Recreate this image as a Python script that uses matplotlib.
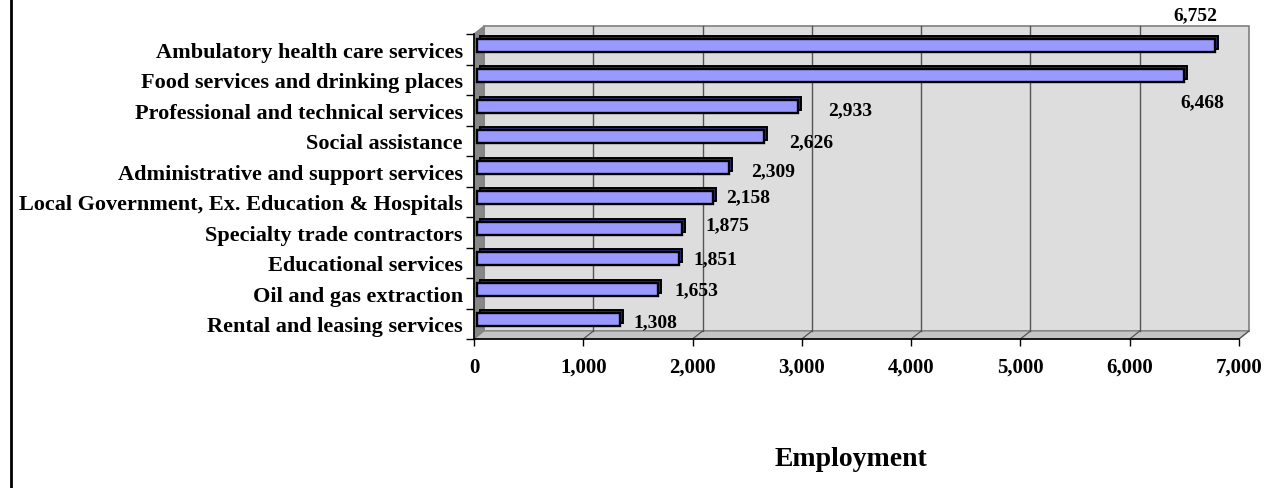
import matplotlib.pyplot as plt
from matplotlib import transforms
from matplotlib.patches import Rectangle, Polygon
from matplotlib.lines import Line2D
from matplotlib.ticker import FuncFormatter

# data
categories = [
    "Ambulatory health care services",
    "Food services and drinking places",
    "Professional and technical services",
    "Social assistance",
    "Administrative and support services",
    "Local Government, Ex. Education & Hospitals",
    "Specialty trade contractors",
    "Educational services",
    "Oil and gas extraction",
    "Rental and leasing services",
]
employment = [6752, 6468, 2933, 2626, 2309, 2158, 1875, 1851, 1653, 1308]
x_ticks = [0, 1000, 2000, 3000, 4000, 5000, 6000, 7000]
x_title = "Employment"

# where each value label sits, in pixels from the bar end (like the excel export)
label_offsets = [(-17, 35), (21, -22), (56, 1), (50, -1), (47, 1),
                 (38, 5), (48, 8), (39, 4), (42, 4), (38, 2)]

W, H = 1270, 489
fig = plt.figure(figsize=(W / 100, H / 100), dpi=100)
plt.rcParams['font.family'] = ['Liberation Serif', 'DejaVu Serif']
plt.rcParams['font.weight'] = 'bold'

# front plane of the fake 3d box
ax = fig.add_axes([474 / W, 1 - 340 / H, (1239 - 474) / W, (340 - 35) / H])
ax.set_xlim(x_ticks[0], x_ticks[-1])
ax.set_ylim(len(categories) - 0.5, -0.5)
ax.patch.set_visible(False)

# depth of the box: 10px right, 8px up
ddx = 10 / (1239 - 474)
ddy = 8 / (340 - 35)
ddx_data = ddx * (x_ticks[-1] - x_ticks[0])
depth = transforms.ScaledTranslation(10 / 100, 8 / 100, fig.dpi_scale_trans)

# back wall, left wall, floor
ax.add_patch(Rectangle((0, 0), 1, 1, transform=ax.transAxes + depth,
                       facecolor='#DDDDDD', edgecolor='#808080', lw=1.2,
                       zorder=0, clip_on=False))
ax.add_patch(Polygon([(0, 0), (ddx, ddy), (ddx, 1 + ddy), (0, 1)],
                     transform=ax.transAxes, facecolor='#888888',
                     edgecolor='#808080', lw=0.8, zorder=0.5, clip_on=False))
ax.add_patch(Polygon([(0, 0), (1, 0), (1 + ddx, ddy), (ddx, ddy)],
                     transform=ax.transAxes, facecolor='#C4C4C4',
                     edgecolor='#808080', lw=0.8, zorder=0.5, clip_on=False))

# gridlines on the back wall + little slants on the floor
xt = ax.get_xaxis_transform()
for x in x_ticks[1:-1]:
    ax.plot([x, x], [0, 1], color='#555555', lw=1, transform=xt + depth,
            zorder=0.6, clip_on=False)
for x in x_ticks[1:]:
    ax.plot([x, x + ddx_data], [0, ddy], color='#555555', lw=0.9,
            transform=xt, zorder=0.6, clip_on=False)

# bars: dark "top/side" copy behind, light front face on top
ypos = list(range(len(categories)))
bar_front = transforms.ScaledTranslation(3 / 100, 4 / 100, fig.dpi_scale_trans)
bar_back = transforms.ScaledTranslation(6 / 100, 7 / 100, fig.dpi_scale_trans)
ax.barh(ypos, employment, height=0.41, color='#2A2A80', edgecolor='black',
        lw=1.4, transform=ax.transData + bar_back, zorder=2, clip_on=False)
ax.barh(ypos, employment, height=0.41, color='#9999FF', edgecolor='black',
        lw=1.7, transform=ax.transData + bar_front, zorder=3, clip_on=False)

# value labels
for i, v in enumerate(employment):
    ax.annotate(f"{v:,}", xy=(v, i), xytext=label_offsets[i],
                textcoords='offset pixels', ha='center', va='center',
                fontsize=14, fontweight='bold', zorder=5, annotation_clip=False)

# y axis: labels at the centres, tick marks between the categories
ax.set_yticks(ypos)
ax.set_yticklabels(categories, fontsize=16, fontweight='bold')
ax.tick_params(axis='y', which='major', length=0, pad=8)
ax.set_yticks([y - 0.5 for y in ypos] + [len(categories) - 0.5], minor=True)
ax.tick_params(axis='y', which='minor', length=6, width=1, direction='out')

# x axis
ax.set_xticks(x_ticks)
ax.xaxis.set_major_formatter(FuncFormatter(lambda v, p: f"{int(v):,}"))
ax.tick_params(axis='x', length=5, width=1, direction='out', pad=8,
               labelsize=15)
for lab in ax.get_xticklabels():
    lab.set_fontweight('bold')

for s in ['top', 'right']:
    ax.spines[s].set_visible(False)
ax.spines['left'].set_linewidth(1.2)
ax.spines['bottom'].set_linewidth(1.2)

fig.text(851 / W, 1 - 460 / H, x_title, fontsize=20, fontweight='bold',
         ha='center', va='center')

# chart border on the left
fig.add_artist(Line2D([11 / W, 11 / W], [0, 1], color='black', lw=2,
                      transform=fig.transFigure))

fig.savefig('out.png', dpi=100)
